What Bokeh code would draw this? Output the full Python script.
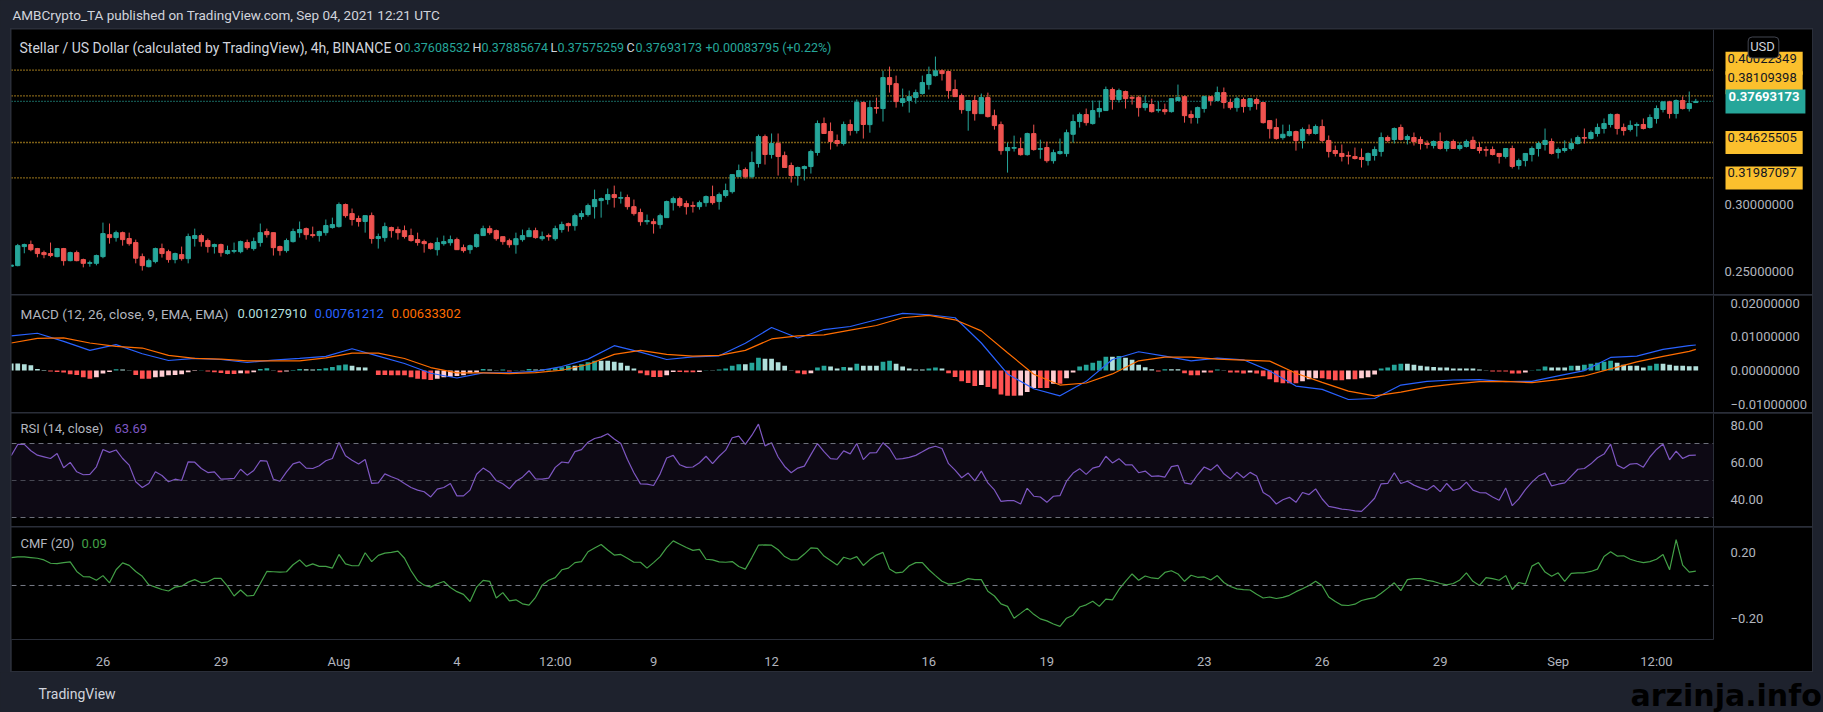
import numpy as np
import pandas as pd
from bokeh.plotting import figure
from bokeh.layouts import column, row
from bokeh.models import (ColumnDataSource, Range1d, FixedTicker, LinearAxis,
                          Label, Span, BoxAnnotation, Spacer)
from bokeh.embed import file_html
from bokeh.resources import INLINE

# ---------------------------------------------------------------- data
START = "2021-07-23 16:00"          # first (partly visible) 4h candle
STEP = pd.Timedelta(hours=4)

OPEN = [
    .2539, .2544, .2686, .2701, .2671, .2641, .2634, .2611, .2671, .2581,
    .2641, .2589, .2561, .2561, .2611, .2775, .2753, .2790, .2746, .2716,
    .2611, .2536, .2574, .2671, .2648, .2589, .2626, .2596, .2746, .2768,
    .2731, .2686, .2701, .2634, .2651, .2648, .2716, .2671, .2716, .2798,
    .2790, .2686, .2656, .2723, .2790, .2820, .2775, .2768, .2790, .2828,
    .2835, .3000, .2932, .2895, .2873, .2917, .2746, .2753, .2828, .2813,
    .2805, .2768, .2738, .2723, .2708, .2663, .2708, .2715, .2738, .2678,
    .2663, .2686, .2768, .2820, .2805, .2760, .2730, .2700, .2738, .2760,
    .2805, .2745, .2768, .2745, .2813, .2857, .2842, .2910, .2925, .2984,
    .3029, .3037, .3074, .3047, .3052, .2984, .2940, .2872, .2872, .2850,
    .2902, .3014, .3044, .3007, .2992, .2984, .3014, .3059, .3022, .3067,
    .3096, .3208, .3261, .3208, .3306, .3507, .3373, .3455, .3365, .3291,
    .3216, .3268, .3283, .3388, .3604, .3545, .3477, .3455, .3597, .3552,
    .3761, .3596, .3723, .3716, .3947, .3902, .3761, .3776, .3798, .3828,
    .3895, .3962, .3998, .3992, .3858, .3813, .3701, .3776, .3678, .3798,
    .3663, .3596, .3402, .3420, .3417, .3372, .3529, .3412, .3425, .3327,
    .3380, .3380, .3524, .3619, .3671, .3604, .3693, .3701, .3858, .3783,
    .3843, .3798, .3798, .3723, .3746, .3703, .3708, .3693, .3776, .3805,
    .3671, .3649, .3716, .3805, .3776, .3835, .3761, .3723, .3783, .3731,
    .3783, .3761, .3626, .3574, .3499, .3514, .3544, .3478, .3560, .3530,
    .3582, .3478, .3403, .3381, .3366, .3358, .3351, .3328, .3366, .3396,
    .3500, .3485, .3575, .3485, .3500, .3485, .3455, .3440, .3470, .3418,
    .3470, .3418, .3433, .3478, .3425, .3410, .3410, .3381, .3358, .3418,
    .3291, .3328, .3373, .3418, .3448, .3470, .3388, .3403, .3418, .3455,
    .3500, .3493, .3530, .3567, .3597, .3672, .3575, .3560, .3590, .3597,
    .3575, .3642, .3709, .3766, .3679, .3776, .3716, .37608532]

HIGH = [
    .2551, .2706, .2708, .2731, .2676, .2656, .2716, .2676, .2676, .2648,
    .2656, .2596, .2581, .2626, .2865, .2858, .2805, .2798, .2790, .2738,
    .2634, .2596, .2678, .2708, .2663, .2641, .2686, .2783, .2820, .2783,
    .2746, .2708, .2708, .2693, .2716, .2731, .2738, .2753, .2858, .2820,
    .2790, .2693, .2746, .2820, .2873, .2828, .2835, .2805, .2888, .2902,
    .3015, .3007, .2970, .2917, .2917, .2940, .2783, .2865, .2835, .2835,
    .2843, .2820, .2790, .2738, .2716, .2753, .2768, .2768, .2753, .2701,
    .2701, .2783, .2842, .2842, .2813, .2760, .2745, .2790, .2813, .2827,
    .2827, .2798, .2783, .2842, .2872, .2865, .2932, .2955, .3007, .3111,
    .3052, .3119, .3141, .3096, .3074, .3037, .2969, .2925, .2895, .2932,
    .3029, .3059, .3059, .3029, .3022, .3029, .3067, .3141, .3089, .3156,
    .3223, .3298, .3276, .3395, .3522, .3522, .3530, .3530, .3395, .3313,
    .3283, .3291, .3410, .3627, .3649, .3612, .3522, .3619, .3634, .3784,
    .3769, .3776, .3798, .3998, .4029, .3962, .3865, .3850, .3858, .3962,
    .4029, .4104, .4007, .3998, .3932, .3828, .3776, .3813, .3828, .3835,
    .3708, .3619, .3462, .3514, .3499, .3536, .3596, .3484, .3469, .3410,
    .3492, .3559, .3671, .3686, .3716, .3776, .3776, .3880, .3873, .3865,
    .3850, .3813, .3813, .3813, .3790, .3768, .3753, .3790, .3895, .3813,
    .3701, .3731, .3813, .3805, .3880, .3873, .3790, .3805, .3798, .3790,
    .3798, .3761, .3626, .3641, .3596, .3596, .3551, .3575, .3597, .3597,
    .3634, .3515, .3440, .3448, .3396, .3425, .3418, .3388, .3433, .3537,
    .3515, .3575, .3597, .3522, .3537, .3507, .3478, .3478, .3537, .3478,
    .3485, .3463, .3485, .3507, .3463, .3433, .3433, .3381, .3418, .3440,
    .3343, .3381, .3433, .3470, .3567, .3493, .3425, .3478, .3493, .3515,
    .3567, .3552, .3604, .3642, .3679, .3679, .3604, .3627, .3612, .3642,
    .3672, .3739, .3766, .3774, .3784, .3806, .3843, .37885674]

LOW = [
    .2536, .2539, .2636, .2651, .2606, .2599, .2606, .2606, .2544, .2576,
    .2576, .2531, .2536, .2546, .2599, .2708, .2723, .2693, .2693, .2561,
    .2507, .2531, .2561, .2604, .2566, .2561, .2581, .2561, .2686, .2686,
    .2641, .2634, .2611, .2626, .2636, .2636, .2663, .2656, .2686, .2753,
    .2619, .2619, .2641, .2716, .2753, .2738, .2753, .2723, .2768, .2820,
    .2828, .2902, .2843, .2835, .2790, .2708, .2671, .2723, .2753, .2738,
    .2746, .2723, .2693, .2641, .2663, .2619, .2693, .2693, .2663, .2641,
    .2633, .2678, .2768, .2775, .2730, .2700, .2678, .2633, .2723, .2760,
    .2745, .2730, .2730, .2730, .2790, .2798, .2805, .2887, .2910, .2895,
    .2902, .3000, .2977, .3007, .2962, .2917, .2842, .2850, .2783, .2820,
    .2902, .2955, .2977, .2925, .2940, .2962, .2984, .2999, .2962, .3052,
    .3082, .3208, .3194, .3194, .3276, .3298, .3343, .3216, .3276, .3164,
    .3141, .3179, .3231, .3365, .3530, .3410, .3433, .3440, .3515, .3530,
    .3492, .3536, .3678, .3619, .3835, .3723, .3731, .3686, .3753, .3820,
    .3858, .3955, .3925, .3790, .3805, .3678, .3551, .3626, .3678, .3649,
    .3559, .3372, .3238, .3395, .3365, .3365, .3402, .3342, .3312, .3305,
    .3372, .3357, .3462, .3574, .3589, .3596, .3649, .3701, .3708, .3761,
    .3716, .3746, .3656, .3701, .3686, .3686, .3671, .3686, .3776, .3611,
    .3604, .3604, .3686, .3738, .3776, .3716, .3708, .3693, .3686, .3701,
    .3708, .3604, .3492, .3484, .3484, .3507, .3402, .3418, .3515, .3522,
    .3463, .3351, .3358, .3321, .3299, .3336, .3276, .3291, .3328, .3358,
    .3463, .3455, .3478, .3448, .3440, .3410, .3418, .3418, .3410, .3396,
    .3418, .3403, .3425, .3418, .3381, .3358, .3366, .3306, .3343, .3269,
    .3261, .3284, .3321, .3358, .3403, .3373, .3343, .3388, .3403, .3448,
    .3455, .3485, .3507, .3530, .3575, .3522, .3515, .3545, .3507, .3560,
    .3567, .3604, .3687, .3642, .3642, .3709, .3694, .37575259]

CLOSE = [
    .2548, .2693, .2701, .2663, .2634, .2626, .2619, .2671, .2581, .2641,
    .2581, .2561, .2566, .2619, .2783, .2753, .2790, .2738, .2708, .2599,
    .2544, .2581, .2671, .2634, .2589, .2634, .2596, .2761, .2768, .2723,
    .2686, .2701, .2641, .2656, .2656, .2723, .2678, .2723, .2790, .2775,
    .2678, .2656, .2731, .2798, .2813, .2775, .2768, .2798, .2843, .2850,
    .3000, .2917, .2888, .2873, .2917, .2746, .2761, .2835, .2805, .2790,
    .2761, .2731, .2716, .2708, .2671, .2716, .2723, .2738, .2663, .2656,
    .2693, .2775, .2820, .2790, .2745, .2723, .2700, .2745, .2768, .2805,
    .2753, .2760, .2760, .2820, .2850, .2842, .2917, .2932, .2992, .3037,
    .3044, .3074, .3052, .3052, .2984, .2932, .2872, .2880, .2857, .2917,
    .3022, .3044, .2992, .2984, .2987, .3014, .3059, .3014, .3074, .3104,
    .3223, .3253, .3208, .3313, .3507, .3373, .3455, .3358, .3276, .3216,
    .3276, .3283, .3395, .3604, .3530, .3470, .3455, .3597, .3552, .3761,
    .3597, .3723, .3718, .3947, .3895, .3768, .3790, .3805, .3835, .3910,
    .3970, .3998, .3977, .3850, .3805, .3708, .3776, .3678, .3798, .3656,
    .3589, .3402, .3425, .3425, .3372, .3529, .3410, .3417, .3327, .3387,
    .3395, .3536, .3619, .3671, .3611, .3701, .3716, .3858, .3783, .3850,
    .3790, .3793, .3723, .3753, .3693, .3708, .3693, .3790, .3798, .3663,
    .3649, .3723, .3805, .3776, .3835, .3761, .3723, .3790, .3731, .3790,
    .3753, .3611, .3566, .3492, .3524, .3544, .3477, .3560, .3530, .3582,
    .3478, .3396, .3381, .3358, .3361, .3343, .3336, .3381, .3410, .3500,
    .3478, .3567, .3485, .3507, .3470, .3455, .3448, .3470, .3418, .3470,
    .3418, .3440, .3470, .3418, .3403, .3405, .3373, .3358, .3418, .3284,
    .3328, .3381, .3418, .3455, .3478, .3381, .3410, .3418, .3455, .3500,
    .3495, .3537, .3575, .3604, .3672, .3567, .3552, .3590, .3597, .3567,
    .3649, .3716, .3766, .3679, .3776, .3716, .3754, .37693173]

# MACD (12, 26, close, 9): histogram for every candle, lines read every 4th candle
HIST = [
    .0021, .0021, .0019, .0016, .0005, .0002, -.0003, -.0004, -.0006, -.0011,
    -.0013, -.0020, -.0024, -.0020, -.0009, -.0004, .0004, .0003, .0001, -.0013,
    -.0024, -.0024, -.0020, -.0018, -.0014, -.0013, -.0011, -.0005, -.0001, .0001,
    -.0003, -.0005, -.0007, -.0010, -.0010, -.0008, -.0009, -.0005, .0005, .0007,
    .0001, -.0005, -.0003, .0002, .0005, .0004, .0003, .0005, .0007, .0011,
    .0016, .0018, .0014, .0010, .0009, .0000, -.0013, -.0013, -.0014, -.0014,
    -.0014, -.0020, -.0024, -.0026, -.0028, -.0024, -.0020, -.0018, -.0016, -.0014,
    -.0008, -.0006, .0005, .0003, .0001, .0003, -.0003, .0001, .0001, .0005,
    .0003, .0003, .0004, .0007, .0010, .0014, .0014, .0019, .0025, .0029,
    .0029, .0029, .0026, .0023, .0014, .0006, -.0008, -.0014, -.0019, -.0019,
    -.0014, -.0004, -.0004, -.0005, -.0005, -.0004, .0001, .0001, .0003, .0006,
    .0014, .0019, .0019, .0023, .0038, .0035, .0035, .0025, .0014, .0001,
    -.0008, -.0011, -.0008, .0009, .0014, .0012, .0006, .0011, .0009, .0020,
    .0014, .0014, .0014, .0026, .0029, .0020, .0012, .0006, .0003, .0003,
    .0006, .0009, .0006, -.0008, -.0019, -.0032, -.0037, -.0046, -.0043, -.0049,
    -.0054, -.0071, -.0075, -.0075, -.0074, -.0064, -.0052, -.0052, -.0052, -.0039,
    -.0039, -.0023, -.0006, .0012, .0017, .0023, .0029, .0041, .0041, .0043,
    .0038, .0032, .0017, .0010, .0004, -.0003, .0004, .0004, .0004, -.0008,
    -.0014, -.0014, -.0006, -.0006, .0003, .0001, -.0006, -.0006, -.0009, -.0006,
    -.0009, -.0017, -.0026, -.0035, -.0038, -.0038, -.0038, -.0032, -.0026, -.0023,
    -.0023, -.0026, -.0029, -.0029, -.0026, -.0026, -.0023, -.0020, -.0012, .0006,
    .0009, .0017, .0020, .0020, .0017, .0014, .0012, .0011, .0009, .0009,
    .0006, .0006, .0006, .0006, .0003, .0001, -.0003, -.0003, -.0003, -.0009,
    -.0009, -.0006, .0001, .0003, .0012, .0009, .0009, .0009, .0014, .0014,
    .0017, .0020, .0023, .0026, .0029, .0023, .0017, .0014, .0014, .0009,
    .0014, .0020, .0020, .0017, .0014, .0014, .0013, .0013]

MACD_IDX = list(range(0, 257, 4)) + [257]
MACD = [
    .0103, .0111, .0087, .0060, .0077, .0050, .0030, .0036, .0033, .0024,
    .0031, .0036, .0042, .0065, .0043, .0021, -.0008, -.0022, -.0007, -.0007,
    -.0002, .0012, .0034, .0074, .0055, .0033, .0041, .0044, .0081, .0128,
    .0097, .0122, .0131, .0151, .0170, .0166, .0157, .0082, -.0010, -.0054,
    -.0075, -.0032, .0033, .0056, .0043, .0029, .0037, .0032, -.0001, -.0046,
    -.0056, -.0086, -.0083, -.0043, -.0032, -.0028, -.0027, -.0033, -.0032, -.0016,
    .0000, .0039, .0043, .0063, .0074, .0076]
SIGNAL = [
    .0082, .0096, .0097, .0082, .0072, .0067, .0045, .0036, .0034, .0029,
    .0029, .0029, .0038, .0052, .0052, .0036, .0009, -.0007, -.0007, -.0009,
    -.0006, .0001, .0018, .0048, .0060, .0048, .0043, .0045, .0060, .0094,
    .0103, .0106, .0120, .0134, .0157, .0164, .0151, .0118, .0053, -.0011,
    -.0043, -.0037, -.0010, .0029, .0040, .0040, .0034, .0031, .0028, -.0008,
    -.0035, -.0061, -.0075, -.0064, -.0049, -.0040, -.0033, -.0032, -.0036, -.0027,
    -.0016, .0005, .0026, .0042, .0057, .0063]

RSI = [
    63.4, 69.5, 69.5, 66.1, 63.7, 62.8, 61.9, 64.6, 56.9, 59.8,
    54.7, 53.1, 53.3, 57.4, 66.8, 65.2, 66.5, 61.9, 58.3, 49.3,
    46.2, 48.4, 54.7, 52.7, 49.3, 50.7, 50.0, 60.1, 59.9, 56.5,
    54.3, 54.7, 50.7, 50.9, 51.1, 56.1, 52.9, 55.4, 60.7, 60.5,
    50.7, 49.6, 54.7, 59.0, 60.1, 56.7, 56.5, 58.0, 60.7, 61.9,
    70.6, 63.4, 61.0, 58.9, 61.4, 48.4, 48.7, 53.6, 52.0, 50.7,
    48.4, 46.2, 44.8, 43.9, 41.1, 45.3, 46.2, 48.4, 41.7, 41.7,
    44.8, 53.4, 56.7, 54.5, 50.0, 48.2, 45.5, 49.6, 51.8, 55.3,
    50.9, 50.7, 51.3, 57.1, 60.0, 59.5, 65.6, 66.7, 70.7, 72.7,
    73.6, 75.3, 72.4, 70.0, 61.5, 54.2, 48.2, 48.0, 47.3, 53.6,
    62.2, 63.6, 58.5, 57.1, 57.3, 59.6, 63.1, 59.1, 63.1, 66.4,
    73.1, 74.0, 69.5, 74.5, 80.5, 68.7, 70.4, 62.7, 57.6, 54.2,
    56.7, 57.8, 64.0, 70.0, 65.6, 61.8, 61.5, 66.0, 64.4, 70.0,
    61.3, 64.9, 65.1, 70.4, 67.3, 61.5, 61.8, 62.5, 63.6, 65.5,
    67.5, 68.5, 67.3, 59.1, 55.6, 51.5, 54.0, 49.8, 55.1, 48.7,
    44.9, 38.7, 39.1, 39.1, 37.3, 45.8, 41.5, 41.1, 38.2, 41.5,
    41.8, 49.6, 54.0, 56.4, 53.3, 56.7, 57.6, 63.1, 59.5, 61.8,
    58.5, 58.5, 54.2, 55.1, 52.2, 52.5, 51.8, 57.5, 58.2, 48.7,
    48.0, 53.1, 57.3, 55.6, 58.5, 53.6, 50.9, 54.5, 51.5, 54.4,
    52.4, 43.5, 41.3, 37.3, 39.6, 40.9, 38.2, 43.5, 42.4, 45.5,
    40.0, 36.0, 35.3, 34.5, 34.2, 33.6, 33.3, 36.7, 40.4, 48.2,
    48.4, 54.2, 48.4, 49.6, 47.5, 46.0, 44.8, 47.3, 44.0, 48.4,
    44.6, 45.7, 49.1, 44.8, 43.5, 43.3, 41.1, 39.3, 46.0, 36.4,
    40.1, 45.1, 49.1, 52.4, 54.0, 47.1, 48.0, 48.7, 52.4, 56.1,
    56.5, 59.0, 62.3, 64.3, 69.7, 58.3, 56.5, 58.9, 59.2, 57.2,
    62.7, 66.8, 69.7, 61.2, 65.9, 61.9, 63.6, 63.69]

CMF = [
    .167, .171, .171, .167, .163, .153, .133, .131, .137, .141,
    .084, .053, .051, .031, .059, .016, .094, .135, .120, .084,
    .055, .004, -.010, -.024, -.033, -.010, -.004, .020, .035, .016,
    .022, .043, .043, -.004, -.063, -.027, -.063, -.059, .012, .084,
    .082, .080, .082, .124, .153, .114, .129, .114, .114, .104,
    .186, .129, .118, .118, .196, .143, .180, .194, .198, .206,
    .163, .088, .029, .002, -.010, .010, .024, -.012, -.037, -.053,
    -.096, -.010, .031, .025, -.075, -.043, -.092, -.086, -.110, -.118,
    -.071, .002, .031, .047, .094, .104, .137, .143, .202, .224,
    .245, .212, .182, .186, .163, .139, .139, .104, .137, .173,
    .227, .267, .247, .227, .210, .216, .157, .153, .141, .139,
    .143, .114, .098, .167, .241, .243, .241, .214, .173, .153,
    .155, .188, .225, .222, .176, .149, .122, .169, .157, .173,
    .120, .155, .182, .198, .098, .075, .080, .118, .137, .137,
    .094, .059, .025, .008, .012, .024, .041, .035, .035, -.035,
    -.063, -.110, -.125, -.196, -.167, -.137, -.173, -.200, -.212, -.231,
    -.245, -.196, -.178, -.129, -.116, -.094, -.125, -.082, -.086, -.024,
    .025, .069, .031, .057, .045, .041, .078, .088, .069, .025,
    .061, .049, .051, .033, .059, .018, -.006, -.020, -.025, -.027,
    -.053, -.075, -.069, -.078, -.071, -.059, -.037, -.020, .000, .025,
    -.002, -.069, -.096, -.118, -.120, -.112, -.090, -.080, -.073, -.047,
    -.016, .016, -.031, .035, .041, .041, .031, .024, .012, .004,
    .012, .033, .075, .025, .000, .047, .041, .031, .059, -.024,
    .018, .008, .116, .137, .080, .055, .076, .024, .073, .075,
    .076, .084, .098, .173, .202, .176, .178, .157, .145, .137,
    .143, .157, .186, .094, .275, .122, .080, .086]

LEVELS = [0.40022349, 0.38109398, 0.34625505, 0.31987097]
LEVEL_LABEL_LIFT = [7, 13, 0, 0]          # px the stacked tags are pushed up
LAST_PRICE = 0.37693173

X_TICK_TIMES = ["2021-07-26 00:00", "2021-07-29 00:00", "2021-08-01 00:00",
                "2021-08-04 00:00", "2021-08-06 12:00", "2021-08-09 00:00",
                "2021-08-12 00:00", "2021-08-16 00:00", "2021-08-19 00:00",
                "2021-08-23 00:00", "2021-08-26 00:00", "2021-08-29 00:00",
                "2021-09-01 00:00", "2021-09-03 12:00"]
X_TICK_LABELS = ["26", "29", "Aug", "4", "12:00", "9", "12", "16", "19",
                 "23", "26", "29", "Sep", "12:00"]

PRICE_TICKS = [0.25, 0.30]
PRICE_TICK_LABELS = ["0.25000000", "0.30000000"]
MACD_TICKS = [-0.01, 0.0, 0.01, 0.02]
MACD_TICK_LABELS = ["\u22120.01000000", "0.00000000", "0.01000000", "0.02000000"]
RSI_TICKS = [40, 60, 80]
RSI_TICK_LABELS = ["40.00", "60.00", "80.00"]
CMF_TICKS = [-0.2, 0.2]
CMF_TICK_LABELS = ["\u22120.20", "0.20"]

N = len(OPEN)
assert N == len(HIGH) == len(LOW) == len(CLOSE) == len(HIST) == len(RSI) == len(CMF) == 258
assert len(MACD) == len(SIGNAL) == len(MACD_IDX)

# ---------------------------------------------------------------- style / layout
PAGE_W, PAGE_H = 1823, 712
CHART_W, FRAME_W = 1801, 1702
AXIS_W = CHART_W - FRAME_W
SIDE = 10
HEAD_H = 28
P_H, MACD_H, RSI_H, CMF_FRAME_H, XAX_H = 265, 117, 113, 114, 30
CMF_H = CMF_FRAME_H + XAX_H
CHARTS_H = P_H + MACD_H + RSI_H + CMF_H + 5          # 3 separators + top/bottom border
FOOT_H = PAGE_H - HEAD_H - CHARTS_H
FOOT_TOP = HEAD_H + CHARTS_H

BG = "#000000"
OUTER = "#1e222d"
SEP = "#2a2e39"
TXT = "#b2b5be"
TXT2 = "#d1d4dc"
TEAL = "#26a69a"
RED = "#ef5350"
YELLOW = "#fbc02d"
FONT = "Roboto"

XR = Range1d(0.046, 259.7)               # candle index range of the plotting area
# price pane: its frame also covers the price-scale strip, so the price tags can live there
XR_P = Range1d(XR.start, XR.start + (XR.end - XR.start) * CHART_W / FRAME_W)


def no_align(p):
    # keep every pane's frame exactly as sized (no cross-plot frame alignment)
    try:
        p.frame_align = False
    except Exception:
        pass
    return p


def style_axis(ax, standoff=11):
    ax.axis_line_color = SEP
    ax.major_tick_line_color = None
    ax.minor_tick_line_color = None
    ax.major_label_text_color = TXT
    ax.major_label_text_font = FONT
    ax.major_label_text_font_size = "13px"
    ax.major_label_standoff = standoff


def panel(height, yr, ticks, tick_labels, bottom=0):
    p = figure(width=CHART_W, height=height, x_range=XR, y_range=Range1d(*yr),
               toolbar_location=None, output_backend="svg",
               x_axis_location=None, y_axis_location=None,
               background_fill_color=BG, border_fill_color=BG,
               min_border_left=0, min_border_top=0, min_border_bottom=bottom,
               min_border_right=AXIS_W)
    no_align(p)
    p.outline_line_color = None
    p.grid.visible = False
    ax = LinearAxis(ticker=FixedTicker(ticks=ticks),
                    major_label_overrides=dict(zip(ticks, tick_labels)))
    style_axis(ax)
    p.add_layout(ax, "right")
    return p


def label(p, text, x, y, color=TXT, size="13px", **kw):
    p.add_layout(Label(x=x, y=y, x_units="screen", y_units="screen", text=text,
                       text_color=color, text_font=FONT, text_font_size=size,
                       text_baseline="middle", text_align=kw.pop("align", "left"),
                       **kw))


x = np.arange(N)

# ---------------------------------------------------------------- price panel
price = figure(frame_width=CHART_W, frame_height=P_H, x_range=XR_P,
               y_range=Range1d(0.23284, 0.43060),
               toolbar_location=None, output_backend="svg",
               x_axis_location=None, y_axis_location=None,
               background_fill_color=BG, border_fill_color=BG, min_border=0)
no_align(price)
price.outline_line_color = None
price.grid.visible = False
# price scale: separator line + tick labels placed on the price scale
price.add_layout(Span(location=XR.end, dimension="height", line_color=SEP, line_width=1))
for t, s in zip(PRICE_TICKS, PRICE_TICK_LABELS):
    price.add_layout(Label(x=FRAME_W + 11, y=t, x_units="screen", y_units="data", text=s,
                           text_color=TXT, text_font=FONT, text_font_size="13px",
                           text_baseline="middle", text_align="left"))

o, h, l, c = map(np.array, (OPEN, HIGH, LOW, CLOSE))
csrc = ColumnDataSource(dict(x=x, o=o, h=h, l=l, c=c,
                             top=np.maximum(o, c), bot=np.minimum(o, c),
                             col=np.where(c >= o, TEAL, RED)))
nl = len(LEVELS)
price.segment(x0=[XR.start] * nl, x1=[XR.end] * nl, y0=LEVELS, y1=LEVELS,
              line_color=YELLOW, line_dash="1 2", line_width=1.3, level="underlay")
price.segment(x0=[XR.start], x1=[XR.end], y0=[LAST_PRICE], y1=[LAST_PRICE],
              line_color=TEAL, line_dash="1 2", line_width=1.3, level="underlay")
price.segment(x0="x", y0="l", x1="x", y1="h", line_color="col", line_width=1, source=csrc)
price.vbar(x="x", width=0.66, top="top", bottom="bot", fill_color="col",
           line_color="col", line_width=1, source=csrc)

for lvl, lift in zip(LEVELS, LEVEL_LABEL_LIFT):
    price.add_layout(Label(x=FRAME_W + 12, y=lvl, x_units="screen", y_units="data",
                           y_offset=lift, text=f"{lvl:.8f}", text_color="#131722",
                           text_font=FONT, text_font_size="13px",
                           text_baseline="middle", text_align="left",
                           background_fill_color=YELLOW, padding=(2, 6, 2, 12)))
price.add_layout(Label(x=FRAME_W + 12, y=LAST_PRICE, x_units="screen", y_units="data",
                       text=f"{LAST_PRICE:.8f}", text_color="#ffffff", text_font=FONT,
                       text_font_size="13px", text_font_style="bold",
                       text_baseline="middle", text_align="left",
                       background_fill_color=TEAL, padding=(3, 6, 3, 12)))
label(price, "USD", 1752, P_H - 18, color=TXT2, align="center",
      background_fill_color="#000000", border_line_color="#434651",
      border_radius=4, padding=(2, 4, 2, 4))

ty = P_H - 18
label(price, "Stellar / US Dollar (calculated by TradingView), 4h, BINANCE", 8, ty, TXT2, "14px")
for txt, xx, col in [("O", 383, TXT2), (f"{OPEN[-1]:.8f}", 392, TEAL),
                     ("H", 461, TXT2), (f"{HIGH[-1]:.8f}", 470, TEAL),
                     ("L", 539, TXT2), (f"{LOW[-1]:.8f}", 546, TEAL),
                     ("C", 615, TXT2), (f"{CLOSE[-1]:.8f}", 624, TEAL),
                     ("+0.00083795 (+0.22%)", 694, TEAL)]:
    label(price, txt, xx, ty, col, "12.5px")

# ---------------------------------------------------------------- MACD panel
macd = panel(MACD_H, (-0.012464, 0.02232), MACD_TICKS, MACD_TICK_LABELS)
hcols = []
prev = None
for v in HIST:
    grow = prev is not None and prev < v
    if v >= 0:
        hcols.append("#26a69a" if grow else "#b2dfdb")
    else:
        hcols.append("#ffcdd2" if grow else "#ff5252")
    prev = v
macd.vbar(x=x, width=0.72, top=HIST, bottom=0, fill_color=hcols, line_color=None)
macd.line(MACD_IDX, MACD, line_color="#2962ff", line_width=1.2)
macd.line(MACD_IDX, SIGNAL, line_color="#ff6d00", line_width=1.2)
label(macd, "MACD (12, 26, close, 9, EMA, EMA)", 9, MACD_H - 18, size="13.5px")
label(macd, "0.00127910", 226, MACD_H - 18, "#b2dfdb")
label(macd, "0.00761212", 303, MACD_H - 18, "#2962ff")
label(macd, "0.00633302", 380, MACD_H - 18, "#ff6d00")

# ---------------------------------------------------------------- RSI panel
rsi = panel(RSI_H, (25.14, 86.22), RSI_TICKS, RSI_TICK_LABELS)
rsi.add_layout(BoxAnnotation(bottom=30, top=70, fill_color="#7e57c2", fill_alpha=0.1,
                             line_color=None, level="underlay"))
for lv, a in [(70, 0.9), (50, 0.55), (30, 0.9)]:
    rsi.add_layout(Span(location=lv, dimension="width", line_color="#787b86",
                        line_alpha=a, line_dash="5 4", line_width=1))
rsi.line(x, RSI, line_color="#7e57c2", line_width=1.2)
label(rsi, "RSI (14, close)", 9, RSI_H - 15)
label(rsi, "63.69", 103, RSI_H - 15, "#7e57c2")

# ---------------------------------------------------------------- CMF panel (+ time axis)
cmf = panel(CMF_H, (-0.3235, 0.3471), CMF_TICKS, CMF_TICK_LABELS, bottom=XAX_H)
cmf.add_layout(Span(location=0, dimension="width", line_color="#787b86",
                    line_dash="5 4", line_width=1))
cmf.line(x, CMF, line_color="#43a047", line_width=1.2)
label(cmf, "CMF (20)", 9, CMF_FRAME_H - 18)
label(cmf, "0.09", 70, CMF_FRAME_H - 18, "#43a047")

start = pd.Timestamp(START)
tick_idx = [float((pd.Timestamp(t) - start) / STEP) for t in X_TICK_TIMES]
xax = LinearAxis(ticker=FixedTicker(ticks=tick_idx),
                 major_label_overrides=dict(zip(tick_idx, X_TICK_LABELS)))
style_axis(xax, standoff=8)
cmf.add_layout(xax, "below")

# ---------------------------------------------------------------- header / footer


def flat(height):
    p = figure(frame_width=PAGE_W, frame_height=height, x_range=(0, 1), y_range=(0, 1),
               toolbar_location=None, output_backend="svg",
               x_axis_location=None, y_axis_location=None,
               background_fill_color=OUTER, border_fill_color=OUTER, min_border=0)
    no_align(p)
    p.outline_line_color = None
    p.grid.visible = False
    return p


head = flat(HEAD_H)
label(head, "AMBCrypto_TA published on TradingView.com, Sep 04, 2021 12:21 UTC",
      12, HEAD_H - 14, TXT2, "13.5px")

foot = flat(FOOT_H)
label(foot, "TradingView", 38, FOOT_H - (693 - FOOT_TOP), TXT2, "14px")
foot.add_layout(Label(x=1630, y=FOOT_H - (695 - FOOT_TOP), x_units="screen", y_units="screen",
                      text="arzinja.info", text_color="#000000", text_font="DejaVu Sans",
                      text_font_size="30px", text_font_style="bold",
                      text_baseline="middle", text_align="left"))

# chart block: the 1px gaps show the separator colour (frame border + pane separators)
charts = column([Spacer(width=CHART_W, height=0), price, macd, rsi, cmf,
                 Spacer(width=CHART_W, height=0)],
                spacing=1, styles={"background-color": SEP})
mid = row([Spacer(width=SIDE, height=CHARTS_H, styles={"background-color": OUTER}), charts,
           Spacer(width=SIDE, height=CHARTS_H, styles={"background-color": OUTER})],
          spacing=1, styles={"background-color": SEP})
root = column([head, mid, foot], styles={"background-color": OUTER})

open("out.html", "w").write(file_html(root, INLINE, title="XLM/USD"))
